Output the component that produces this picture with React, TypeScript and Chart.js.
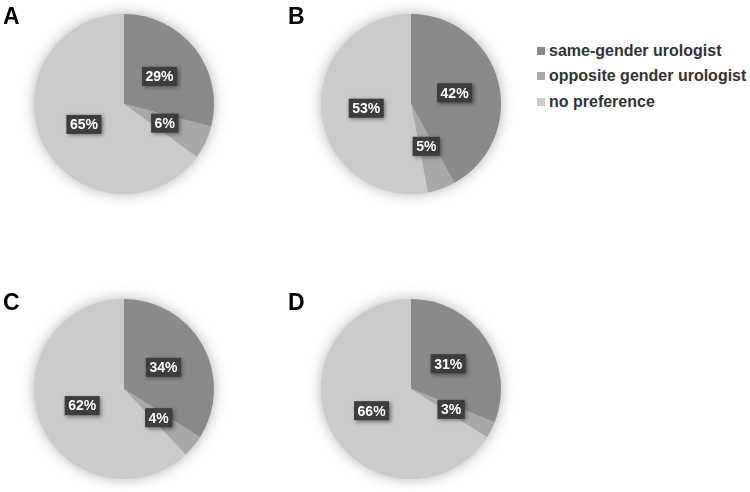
import React, { useEffect, useRef } from "react";
import { Chart, registerables } from "chart.js";

Chart.register(...registerables);

const panelLabels = ["A", "B", "C", "D"];
const categories = ["same-gender urologist", "opposite gender urologist", "no preference"];
const sameGender = [29, 42, 34, 31];
const oppositeGender = [6, 5, 4, 3];
const noPreference = [65, 53, 62, 66];
const sliceColors = ["#8a8a8a", "#a8a8a8", "#cbcbcb"];

const CANVAS = 230;
const PAD = 25;
const centers = [
  [124, 104],
  [411, 104],
  [124, 389],
  [411, 389],
];
const letterPos = [
  [3, 4],
  [288, 4],
  [3, 290],
  [288, 290],
];

const shadowPlugin = {
  id: "pieShadow",
  beforeDatasetsDraw(chart: any) {
    const meta = chart.getDatasetMeta(0);
    const arc = meta.data[0];
    if (!arc) return;
    const ctx = chart.ctx;
    ctx.save();
    ctx.shadowColor = "rgba(0,0,0,0.3)";
    ctx.shadowBlur = 14;
    ctx.fillStyle = "#cbcbcb";
    ctx.beginPath();
    ctx.arc(arc.x, arc.y, arc.outerRadius, 0, Math.PI * 2);
    ctx.fill();
    ctx.restore();
  },
};

const labelPlugin = {
  id: "boxLabels",
  afterDatasetsDraw(chart: any) {
    const ctx = chart.ctx;
    const meta = chart.getDatasetMeta(0);
    const data = chart.data.datasets[0].data;
    ctx.save();
    ctx.font = "bold 14px 'Liberation Sans', Arial, sans-serif";
    ctx.textAlign = "center";
    ctx.textBaseline = "middle";
    meta.data.forEach((arc: any, i: number) => {
      const p = arc.tooltipPosition();
      const text = `${data[i]}%`;
      const w = ctx.measureText(text).width + 7;
      const h = 19;
      ctx.save();
      ctx.shadowColor = "rgba(0,0,0,0.45)";
      ctx.shadowBlur = 4;
      ctx.shadowOffsetX = 1.5;
      ctx.shadowOffsetY = 1.5;
      ctx.fillStyle = "#3d3d3d";
      ctx.fillRect(p.x - w / 2, p.y - h / 2, w, h);
      ctx.restore();
      ctx.fillStyle = "#ffffff";
      ctx.fillText(text, p.x, p.y + 1);
    });
    ctx.restore();
  },
};

function Pie({ idx }: { idx: number }) {
  const ref = useRef<HTMLCanvasElement>(null);
  useEffect(() => {
    if (!ref.current) return;
    const chart = new Chart(ref.current, {
      type: "pie",
      data: {
        labels: categories,
        datasets: [
          {
            data: [sameGender[idx], oppositeGender[idx], noPreference[idx]],
            backgroundColor: sliceColors,
            borderWidth: 0,
            hoverOffset: 0,
          },
        ],
      },
      options: {
        animation: false,
        responsive: false,
        maintainAspectRatio: false,
        layout: { padding: PAD },
        events: [],
        plugins: {
          legend: { display: false },
          tooltip: { enabled: false },
        },
      },
      plugins: [shadowPlugin, labelPlugin],
    });
    return () => chart.destroy();
  }, [idx]);
  const [cx, cy] = centers[idx];
  return (
    <canvas
      ref={ref}
      width={CANVAS}
      height={CANVAS}
      style={{
        position: "absolute",
        left: cx - CANVAS / 2,
        top: cy - CANVAS / 2,
        width: CANVAS,
        height: CANVAS,
      }}
    />
  );
}

export default function App() {
  return (
    <div
      style={{
        position: "fixed",
        left: 0,
        top: 0,
        width: 750,
        height: 492,
        background: "#ffffff",
        overflow: "hidden",
        fontFamily: "'Liberation Sans', Arial, sans-serif",
      }}
    >
      {panelLabels.map((_, i) => (
        <Pie key={i} idx={i} />
      ))}
      {panelLabels.map((l, i) => (
        <div
          key={"l" + i}
          style={{
            position: "absolute",
            left: letterPos[i][0],
            top: letterPos[i][1],
            fontSize: 23,
            fontWeight: "bold",
            color: "#000",
            lineHeight: "24px",
          }}
        >
          {l}
        </div>
      ))}
      {categories.map((c, i) => (
        <div
          key={"c" + i}
          style={{
            position: "absolute",
            left: 537,
            top: 42 + i * 25.3,
            height: 18,
            display: "flex",
            alignItems: "center",
            fontSize: 16,
            fontWeight: "bold",
            color: "#333",
            whiteSpace: "nowrap",
          }}
        >
          <span
            style={{
              display: "inline-block",
              width: 8,
              height: 8,
              background: sliceColors[i],
              marginRight: 4,
            }}
          />
          {c}
        </div>
      ))}
    </div>
  );
}
